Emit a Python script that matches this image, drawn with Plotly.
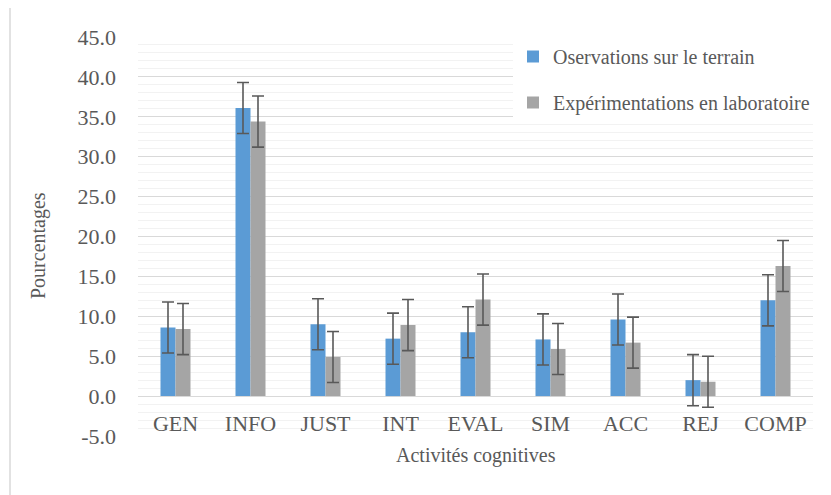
import plotly.graph_objects as go

categories = ["GEN", "INFO", "JUST", "INT", "EVAL", "SIM", "ACC", "REJ", "COMP"]
terrain = [8.6, 36.1, 9.0, 7.2, 8.0, 7.1, 9.6, 2.0, 12.0]
labo = [8.4, 34.4, 4.9, 8.9, 12.1, 5.9, 6.7, 1.8, 16.3]
err_terrain = [3.2, 3.2, 3.2, 3.2, 3.2, 3.2, 3.2, 3.2, 3.2]
err_labo = [3.2, 3.2, 3.2, 3.2, 3.2, 3.2, 3.2, 3.2, 3.2]
ytick_vals = [-5, 0, 5, 10, 15, 20, 25, 30, 35, 40, 45]
ytick_text = ["-5.0", "0.0", "5.0", "10.0", "15.0", "20.0", "25.0", "30.0", "35.0", "40.0", "45.0"]

FONT = "Liberation Serif, Times New Roman, serif"
TXT = "#595959"

fig = go.Figure()
fig.add_trace(go.Bar(
    x=categories, y=terrain, name="Oservations sur le terrain",
    marker=dict(color="#5B9BD5", line=dict(width=0)),
    error_y=dict(type="data", array=err_terrain, color="#595959", thickness=1.6, width=6),
    legendgroup="a",
))
fig.add_trace(go.Bar(
    x=categories, y=labo, name="Expérimentations en laboratoire",
    marker=dict(color="#A5A5A5", line=dict(width=0)),
    error_y=dict(type="data", array=err_labo, color="#595959", thickness=1.6, width=6),
    legendgroup="b",
))

# page-pixel geometry of the plot area (page has an 8px body margin)
OFF = 8
L, R, T, B = 138, 813, 37, 436
PW, PH = 831, 495
W, H = PW - OFF, PH - OFF
pw, ph = R - L, B - T

def px2x(px):
    return (px - L) / pw

def py2y(py):
    return (B - py) / ph

fig.update_layout(
    width=W, height=H,
    margin=dict(l=L - OFF, r=W - (R - OFF), t=T - OFF, b=H - (B - OFF), pad=0),
    paper_bgcolor="white", plot_bgcolor="white",
    font=dict(family=FONT, color=TXT),
    barmode="group", bargap=0.6, bargroupgap=0,
    showlegend=True,
    legend=dict(
        x=px2x(513), y=py2y(37), xanchor="left", yanchor="top",
        bgcolor="white", font=dict(family=FONT, size=20, color=TXT),
        tracegroupgap=17, traceorder="grouped",
        itemwidth=30, borderwidth=0,
    ),
    xaxis=dict(
        type="category", range=[-0.5, 8.5], showgrid=False, zeroline=False,
        showline=False, ticks="", anchor="free", position=0.1,
        tickfont=dict(family=FONT, size=22, color=TXT),
        ticklabelstandoff=12,
    ),
    yaxis=dict(
        range=[-5, 45], tickvals=ytick_vals, ticktext=ytick_text,
        showgrid=True, gridcolor="#D9D9D9", gridwidth=1,
        minor=dict(dtick=1, showgrid=True, gridcolor="#F2F2F2", gridwidth=1),
        zeroline=False, showline=False, ticks="",
        tickfont=dict(family=FONT, size=22, color=TXT),
        ticklabelstandoff=21,
    ),
    annotations=[
        dict(text="Activités cognitives", xref="paper", yref="paper",
             x=px2x(476), y=py2y(455), xanchor="center", yanchor="middle",
             showarrow=False, font=dict(family=FONT, size=20, color=TXT)),
        dict(text="Pourcentages", xref="paper", yref="paper",
             x=px2x(38), y=py2y(246), xanchor="center", yanchor="middle",
             textangle=-90, showarrow=False,
             font=dict(family=FONT, size=20, color=TXT)),
    ],
    shapes=[
        dict(type="rect", xref="paper", yref="paper",
             x0=px2x(10), x1=px2x(840), y0=py2y(500), y1=py2y(7),
             line=dict(color="#D9D9D9", width=1.5), fillcolor="rgba(0,0,0,0)",
             layer="below"),
    ],
)

fig.write_html("out.html")
